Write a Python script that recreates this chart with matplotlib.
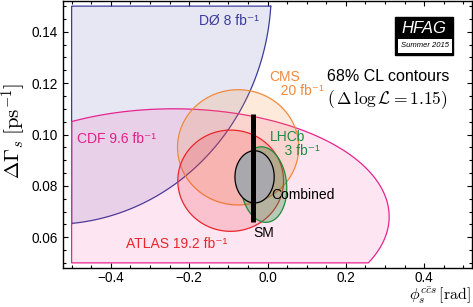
import numpy as np
import matplotlib
matplotlib.use("Agg")
import matplotlib.pyplot as plt
from matplotlib.patches import Polygon, Rectangle
from matplotlib.ticker import MultipleLocator

plt.rcParams['mathtext.fontset'] = 'cm'
plt.rcParams['font.family'] = ['Liberation Sans', 'DejaVu Sans']

# ---- data (68% CL contours, Delta log L = 1.15) ----
experiments = ["DØ", "CDF", "CMS", "ATLAS", "LHCb", "Combined"]
phi_center = [-0.55, -0.24, -0.075, -0.094, -0.010, -0.033]
dg_center = [0.156, 0.068, 0.095, 0.082, 0.0805, 0.0835]
phi_sigma = [0.369, 0.363, 0.102, 0.089, 0.039, 0.033]
dg_sigma = [0.060, 0.0277, 0.0148, 0.0130, 0.0097, 0.0067]
rho = [0.0, 0.0, 0.0, 0.0, -0.1, 0.0]
labels = ["DØ 8 fb⁻¹", "CDF 9.6 fb⁻¹", "CMS\n   20 fb⁻¹", "ATLAS 19.2 fb⁻¹",
          "LHCb\n    3 fb⁻¹", "Combined"]
chi2_68 = 2.3

sm_phi = -0.0376
sm_dg = 0.087
sm_dg_err = 0.021

phi_lim = (-0.5, 0.5)
dg_lim = (0.05, 0.15)

# ---- styles ----
face_cols = [(0.35, 0.35, 0.70), (0.95, 0.10, 0.55), (0.96, 0.55, 0.20),
             (0.92, 0.15, 0.18), (0.15, 0.58, 0.25), (0.66, 0.66, 0.68)]
face_alpha = [0.14, 0.11, 0.18, 0.18, 0.32, 1.0]
edge_cols = ['#3c3c9c', '#e6248f', '#f08a3c', '#e8262c', '#1e8c3c', 'black']
text_cols = ['#3a3aa0', '#e0218a', '#f08a3c', '#e8262c', '#1e8c46', 'black']
text_pos = [(-0.022, 0.1442, 'right'), (-0.487, 0.0982, 'left'),
            (0.005, 0.1195, 'left'), (-0.36, 0.0573, 'left'),
            (0.005, 0.0962, 'left'), (0.009, 0.0764, 'left')]

fig = plt.figure(figsize=(4.73, 3.07), dpi=100)
ax = fig.add_axes([63/473, 39/307, 409/473, 267/307])

t = np.linspace(0, 2*np.pi, 400)
for i in range(len(experiments)):
    sx, sy, r = phi_sigma[i], dg_sigma[i], rho[i]
    cov = np.array([[sx*sx, r*sx*sy], [r*sx*sy, sy*sy]])
    L = np.linalg.cholesky(cov)
    pts = np.sqrt(chi2_68) * (L @ np.vstack([np.cos(t), np.sin(t)]))
    x = np.clip(phi_center[i] + pts[0], *phi_lim)
    y = np.clip(dg_center[i] + pts[1], *dg_lim)
    fc = face_cols[i] + (face_alpha[i],)
    ax.add_patch(Polygon(np.column_stack([x, y]), closed=True, facecolor=fc,
                         edgecolor=edge_cols[i], lw=0.9, zorder=2+i))
    tx, ty, ha = text_pos[i]
    ax.text(tx, ty, labels[i], color=text_cols[i], fontsize=10, ha=ha,
            va='center', zorder=20, linespacing=1.0)

# SM prediction
ax.plot([sm_phi, sm_phi], [sm_dg - sm_dg_err, sm_dg + sm_dg_err], color='black',
        lw=3.6, solid_capstyle='butt', zorder=15)
ax.text(sm_phi + 0.028, sm_dg - sm_dg_err - 0.0045, "SM", fontsize=10, ha='center',
        va='center', zorder=20)

ax.set_xlim(-0.522, 0.522)
ax.set_ylim(0.048, 0.152)
ax.xaxis.set_major_locator(MultipleLocator(0.2))
ax.xaxis.set_minor_locator(MultipleLocator(0.05))
ax.yaxis.set_major_locator(MultipleLocator(0.02))
ax.yaxis.set_minor_locator(MultipleLocator(0.005))
ax.tick_params(which='both', direction='in', top=True, right=True, labelsize=9.8,
               width=0.8)
ax.tick_params(which='major', length=3.5)
ax.tick_params(which='minor', length=2)
ax.tick_params(axis='x', pad=2)
ax.set_xticks([-0.4, -0.2, 0.0, 0.2, 0.4])
ax.set_xticklabels(["\u22120.4", "\u22120.2", "0.0", "0.2", "0.4"])
for s in ax.spines.values():
    s.set_linewidth(1.0)

ax.text(-0.12, 0.513, r"$\Delta\Gamma_s\;[\mathrm{ps}^{-1}]$", transform=ax.transAxes,
        rotation=90, fontsize=15, ha='center', va='center')
fig.text(471/473, 1/307, r"$\phi_s^{c\bar{c}s}\,[\mathrm{rad}]$",
         fontsize=11.5, ha='right', va='bottom')

ax.text(0.646, 0.718, "68% CL contours", transform=ax.transAxes, fontsize=11.5,
        ha='left', va='center')
ax.text(0.646, 0.632, r"$(\,\Delta\,\log\mathcal{L} = 1.15)$", transform=ax.transAxes,
        fontsize=12.5, ha='left', va='center')

# HFAG logo
ax.add_patch(Rectangle((0.812, 0.798), 0.142, 0.142, transform=ax.transAxes,
                       facecolor='black', edgecolor='black', zorder=30))
ax.add_patch(Rectangle((0.820, 0.806), 0.130, 0.051, transform=ax.transAxes,
                       facecolor='white', edgecolor='none', zorder=31))
ax.text(0.883, 0.897, "HFAG", transform=ax.transAxes, color='white', fontsize=12,
        style='italic', ha='center', va='center', zorder=32)
ax.text(0.885, 0.832, "Summer 2015", transform=ax.transAxes, color='black', fontsize=5.5,
        style='italic', ha='center', va='center', zorder=32)

fig.savefig("out.png", dpi=100)
